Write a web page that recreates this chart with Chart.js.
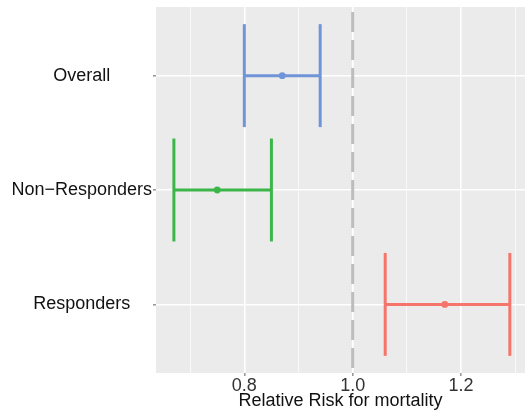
<!DOCTYPE html>
<html>
<head>
<meta charset="utf-8">
<script src="https://cdn.jsdelivr.net/npm/chart.js@4"></script>
<style>
  html, body { margin: 0; padding: 0; background: #fff; }
  #wrap { width: 525px; height: 410px; }
</style>
</head>
<body>
<div id="wrap"><canvas id="forest" width="525" height="410"></canvas></div>
<script>
// groups, top to bottom
const groups = ['Overall', 'Non\u2212Responders', 'Responders'];
const estimate = [0.87, 0.75, 1.17];
const lower = [0.80, 0.67, 1.06];
const upper = [0.94, 0.85, 1.29];
const colors = ['#6f95d8', '#3cb64a', '#f5756c'];
const xTicks = [0.7, 0.8, 0.9, 1.0, 1.1, 1.2, 1.3];
const xLabeled = [0.8, 1.0, 1.2];
const refLine = 1.0;

// y position of each group (Overall on top)
const yPos = groups.map((g, i) => groups.length - i);
const capHalf = 0.45;

const datasets = [];

// dashed reference line, drawn top to bottom
datasets.push({
    data: [{ x: refLine, y: groups.length + 0.6 }, { x: refLine, y: 0.4 }],
    borderColor: '#bdbdbd',
    borderWidth: 3,
    borderDash: [20, 8],
    borderDashOffset: 23,
    pointRadius: 0
});

groups.forEach((g, i) => {
    const y = yPos[i];
    const style = { borderColor: colors[i], backgroundColor: colors[i], borderWidth: 3, pointRadius: 0 };
    datasets.push({ ...style, data: [{ x: lower[i], y: y }, { x: upper[i], y: y }] });
    datasets.push({ ...style, data: [{ x: lower[i], y: y - capHalf }, { x: lower[i], y: y + capHalf }] });
    datasets.push({ ...style, data: [{ x: upper[i], y: y - capHalf }, { x: upper[i], y: y + capHalf }] });
    datasets.push({ ...style, showLine: false, pointRadius: 3.4, pointBorderWidth: 0, data: [{ x: estimate[i], y: y }] });
});

const panelBg = {
    id: 'panelBg',
    beforeDraw(chart) {
        const a = chart.chartArea;
        const ctx = chart.ctx;
        ctx.save();
        ctx.fillStyle = '#ebebeb';
        ctx.fillRect(a.left, a.top, a.right - a.left, a.bottom - a.top);
        ctx.restore();
    }
};

const isMajor = v => xLabeled.some(m => Math.abs(m - v) < 1e-6);

new Chart(document.getElementById('forest').getContext('2d'), {
    type: 'line',
    data: { datasets: datasets },
    plugins: [panelBg],
    options: {
        responsive: false,
        animation: false,
        layout: { autoPadding: false, padding: { top: 7, right: 0, left: 0, bottom: 0 } },
        plugins: { legend: { display: false }, tooltip: { enabled: false } },
        scales: {
            x: {
                type: 'linear',
                min: 0.637,
                max: 1.318,
                afterBuildTicks: s => { s.ticks = xTicks.map(v => ({ value: v })); },
                afterFit: s => { s.height = 37; s.paddingRight = 0; s.paddingLeft = 0; },
                border: { display: false },
                grid: {
                    color: '#ffffff',
                    lineWidth: c => isMajor(c.tick.value) ? 1.6 : 0.7,
                    tickColor: c => isMajor(c.tick.value) ? '#999999' : 'rgba(0,0,0,0)',
                    tickLength: 3
                },
                ticks: {
                    autoSkip: false,
                    maxRotation: 0,
                    padding: 1,
                    color: '#333333',
                    font: { family: 'Liberation Sans', size: 18, lineHeight: 1 },
                    callback: v => isMajor(v) ? v.toFixed(1) : ''
                },
                title: {
                    display: true,
                    text: 'Relative Risk for mortality',
                    color: '#111111',
                    padding: { top: 0, bottom: 0 },
                    font: { family: 'Liberation Sans', size: 18, lineHeight: 1.05 }
                }
            },
            y: {
                type: 'linear',
                min: 0.4,
                max: groups.length + 0.6,
                afterBuildTicks: s => { s.ticks = yPos.map(v => ({ value: v })); },
                afterFit: s => { s.width = 156; s.paddingTop = 0; s.paddingBottom = 0; },
                border: { display: false },
                grid: {
                    color: '#ffffff',
                    lineWidth: 1.6,
                    tickColor: '#999999',
                    tickLength: 3
                },
                ticks: {
                    autoSkip: false,
                    crossAlign: 'center',
                    padding: 1,
                    color: '#111111',
                    font: { family: 'Liberation Sans', size: 18 },
                    callback: v => {
                        const i = yPos.indexOf(v);
                        return i >= 0 ? groups[i] : '';
                    }
                }
            }
        }
    }
});
</script>
</body>
</html>
